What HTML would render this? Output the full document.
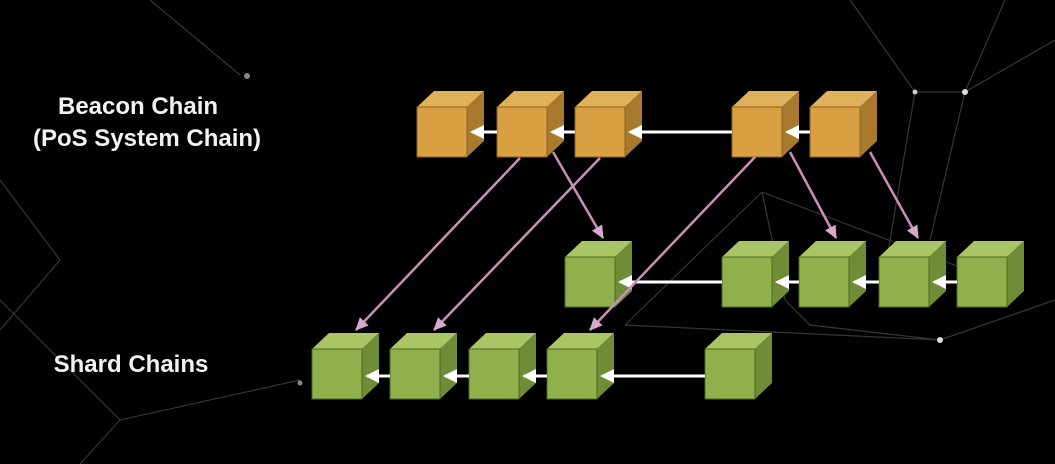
<!DOCTYPE html>
<html><head><meta charset="utf-8"><style>
html,body{margin:0;padding:0;background:#000;width:1055px;height:464px;overflow:hidden}
svg{display:block}
text{font-family:"Liberation Sans",sans-serif;font-weight:bold;fill:#f2f2f2;font-size:24px}
</style></head><body>
<svg width="1055" height="464" viewBox="0 0 1055 464" xmlns="http://www.w3.org/2000/svg">
<defs>
<marker id="wa" markerWidth="16" markerHeight="14" refX="12" refY="7" orient="auto" markerUnits="userSpaceOnUse"><path d="M0,0 L14,7 L0,14 Z" fill="#fff"/></marker>
<marker id="pa" markerWidth="14" markerHeight="14" refX="12" refY="6" orient="auto" markerUnits="userSpaceOnUse"><path d="M0,0 L13,6 L0,12 Z" fill="#d9a8cc"/></marker>
<g id="oc"><polygon points="0,16 17,0 67,0 50,16" fill="#e0b05a"/><polygon points="50,16 67,0 67,50 50,66" fill="#a87a2e"/><rect x="0" y="16" width="50" height="50" fill="#d9a043" stroke="#8a6420" stroke-width="1"/></g>
<g id="gc"><polygon points="0,16 17,0 67,0 50,16" fill="#a9c566"/><polygon points="50,16 67,0 67,50 50,66" fill="#6f8c36"/><rect x="0" y="16" width="50" height="50" fill="#90b04b" stroke="#4d6a22" stroke-width="1"/></g>
</defs>
<g stroke="#444" stroke-width="1.2" fill="none" opacity="0.8">
<path d="M762,192 L785,300 M762,192 L1020,290 M762,192 L625,325 M625,325 L940,340 M785,300 L810,325 L940,340 M940,340 L1055,300 M915,92 L965,92 L1005,0 M915,92 L850,0 M965,92 L1055,40 M915,92 L880,300 M965,92 L930,240 M0,300 L120,420 L300,380 M120,420 L80,464 M240,75 L150,0 M0,180 L60,260 L0,330"/>
</g>
<circle cx="965" cy="92" r="3" fill="#ddd"/><circle cx="915" cy="92" r="2.5" fill="#ccc"/><circle cx="940" cy="340" r="3" fill="#ddd"/><circle cx="247" cy="76" r="3" fill="#888"/><circle cx="300" cy="383" r="2.5" fill="#888"/>
<text x="138" y="114" text-anchor="middle">Beacon Chain</text>
<text x="147" y="146" text-anchor="middle">(PoS System Chain)</text>
<text x="131" y="372" text-anchor="middle">Shard Chains</text>
<use href="#oc" x="417" y="91"/><use href="#oc" x="497" y="91"/><use href="#oc" x="575" y="91"/><use href="#oc" x="732" y="91"/><use href="#oc" x="810" y="91"/>
<use href="#gc" x="565" y="241"/><use href="#gc" x="722" y="241"/><use href="#gc" x="799" y="241"/><use href="#gc" x="879" y="241"/><use href="#gc" x="957" y="241"/>
<use href="#gc" x="312" y="333"/><use href="#gc" x="390" y="333"/><use href="#gc" x="469" y="333"/><use href="#gc" x="547" y="333"/><use href="#gc" x="705" y="333"/>
<g stroke="#fff" stroke-width="3" marker-end="url(#wa)">
<line x1="497" y1="132" x2="472" y2="132"/><line x1="575" y1="132" x2="552" y2="132"/><line x1="732" y1="132" x2="630" y2="132"/><line x1="810" y1="132" x2="787" y2="132"/>
<line x1="722" y1="282" x2="620" y2="282"/><line x1="799" y1="282" x2="777" y2="282"/><line x1="879" y1="282" x2="854" y2="282"/><line x1="957" y1="282" x2="934" y2="282"/>
<line x1="390" y1="376" x2="367" y2="376"/><line x1="469" y1="376" x2="445" y2="376"/><line x1="547" y1="376" x2="524" y2="376"/><line x1="705" y1="376" x2="602" y2="376"/>
</g>
<g stroke="#c890b8" stroke-width="2.5" marker-end="url(#pa)">
<line x1="520" y1="158" x2="356" y2="330"/><line x1="600" y1="158" x2="434" y2="330"/><line x1="553" y1="152" x2="603" y2="238"/>
<line x1="755" y1="157" x2="590" y2="330"/><line x1="790" y1="152" x2="836" y2="238"/><line x1="870" y1="152" x2="918" y2="238"/>
</g>
</svg>
</body></html>
